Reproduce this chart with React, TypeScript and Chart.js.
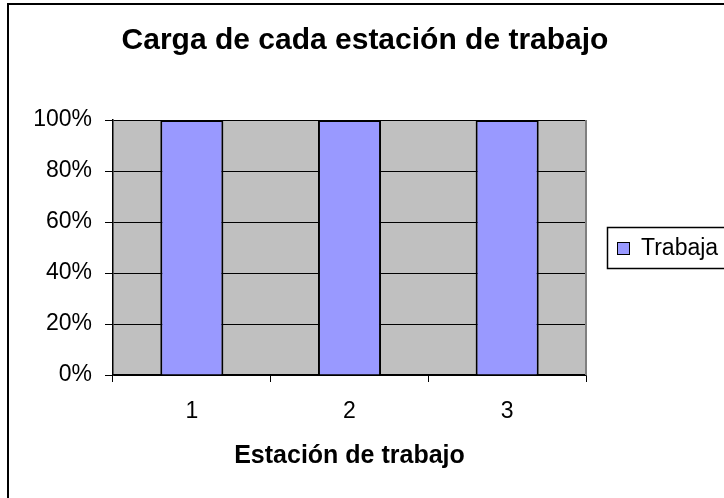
import React, { useEffect, useRef } from "react";
import { Chart, registerables } from "chart.js";

Chart.register(...registerables);

const categories = ["1", "2", "3"];
const seriesName = "Trabaja";
const workLoad = [1, 1, 1];
const yMin = 0;
const yMax = 1;
const yStep = 0.2;
const chartTitle = "Carga de cada estación de trabajo";
const xAxisTitle = "Estación de trabajo";

const FONT = "'Liberation Sans', Arial, Helvetica, sans-serif";
const BAR_COLOR = "#9999FF";
const PLOT_BG = "#C0C0C0";
const W = 724;
const H = 498;

const decorPlugin = {
  id: "decor",
  beforeDraw(chart: any) {
    const { ctx, chartArea: a } = chart;
    ctx.save();
    ctx.fillStyle = "#ffffff";
    ctx.fillRect(0, 0, chart.width, chart.height);
    ctx.fillStyle = PLOT_BG;
    ctx.fillRect(a.left, a.top, a.right - a.left, a.bottom - a.top);
    ctx.restore();
  },
  afterDraw(chart: any) {
    const { ctx, chartArea: a } = chart;
    ctx.save();
    // right edge of plot area
    ctx.strokeStyle = "#808080";
    ctx.lineWidth = 2;
    ctx.beginPath();
    ctx.moveTo(a.right, a.top);
    ctx.lineTo(a.right, a.bottom);
    ctx.stroke();

    // outer frame (left & top visible)
    ctx.strokeStyle = "#000";
    ctx.lineWidth = 2;
    ctx.beginPath();
    ctx.moveTo(8, H + 2);
    ctx.lineTo(8, 4);
    ctx.lineTo(W + 20, 4);
    ctx.stroke();

    // title
    ctx.fillStyle = "#000";
    ctx.font = `bold 30px ${FONT}`;
    ctx.textAlign = "center";
    ctx.textBaseline = "middle";
    ctx.fillText(chartTitle, 365, 41);

    // legend
    const lx = a.right + 21;
    const ly = 227;
    ctx.fillStyle = "#fff";
    ctx.fillRect(lx, ly, 200, 41);
    ctx.strokeStyle = "#000";
    ctx.lineWidth = 1.5;
    ctx.strokeRect(lx + 0.5, ly + 0.5, 200, 41);
    const ds = chart.data.datasets[0];
    ctx.fillStyle = ds.backgroundColor;
    ctx.fillRect(lx + 10, ly + 15, 13, 13);
    ctx.lineWidth = 1;
    ctx.strokeRect(lx + 10.5, ly + 15.5, 12, 12);
    ctx.fillStyle = "#000";
    ctx.font = `23px ${FONT}`;
    ctx.textAlign = "left";
    ctx.textBaseline = "middle";
    ctx.fillText(ds.label, lx + 34, ly + 22);
    ctx.restore();
  },
};

export default function App() {
  const ref = useRef<HTMLCanvasElement | null>(null);

  useEffect(() => {
    if (!ref.current) return;
    const chart = new Chart(ref.current, {
      type: "bar",
      data: {
        labels: categories,
        datasets: [
          {
            label: seriesName,
            data: workLoad,
            backgroundColor: BAR_COLOR,
            borderColor: "#000",
            borderWidth: 2,
            barPercentage: 0.4,
            categoryPercentage: 1,
          },
        ],
      },
      options: {
        responsive: false,
        animation: false,
        layout: { padding: { top: 120, right: 138, left: 0, bottom: 0 } },
        plugins: {
          legend: { display: false },
          title: { display: false },
          tooltip: { enabled: false },
        },
        scales: {
          x: {
            grid: {
              offset: true,
              drawOnChartArea: false,
              drawTicks: true,
              tickLength: 7,
              color: "#000",
              lineWidth: 1,
            },
            border: { color: "#000", width: 1.5 },
            ticks: {
              color: "#000",
              font: { family: FONT, size: 23 },
              padding: 16,
            },
            title: {
              display: true,
              text: xAxisTitle,
              color: "#000",
              font: { family: FONT, size: 25, weight: "bold" },
              padding: { top: 0, bottom: 27 },
            },
            afterFit(scale: any) {
              scale.height = 123;
            },
          },
          y: {
            min: yMin,
            max: yMax,
            ticks: {
              stepSize: yStep,
              color: "#000",
              font: { family: FONT, size: 23 },
              padding: 13,
              callback: (v: any) => Math.round(Number(v) * 100) + "%",
            },
            grid: { color: "#000", tickLength: 8, lineWidth: 1 },
            border: { color: "#000", width: 1.5 },
            afterFit(scale: any) {
              scale.width = 113;
            },
          },
        },
      },
      plugins: [decorPlugin],
    });
    return () => chart.destroy();
  }, []);

  return (
    <div style={{ position: "absolute", left: 0, top: 0, width: W, height: H, background: "#fff" }}>
      <canvas ref={ref} width={W} height={H} style={{ display: "block" }} />
    </div>
  );
}
